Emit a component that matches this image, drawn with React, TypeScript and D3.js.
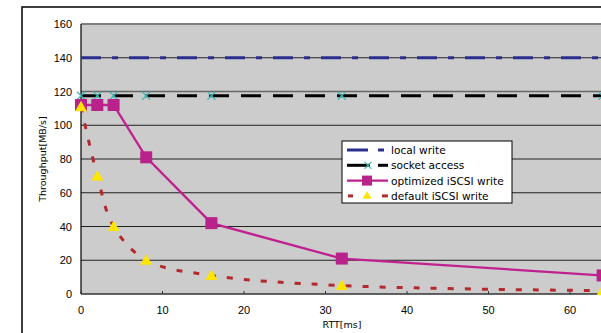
import React from 'react';
import * as d3 from 'd3';

// RTT values and throughput series
const rtt = [0, 2, 4, 8, 16, 32, 64];
const localWrite = [140, 140, 140, 140, 140, 140, 140];
const socketAccess = [117.5, 117.5, 117.5, 117.5, 117.5, 117.5, 117.5];
const optimizedWrite = [112, 112, 112, 81, 42, 21, 11];
const defaultWrite = [111, 70, 40, 20, 11, 5, 2];
const yTicks = [0, 20, 40, 60, 80, 100, 120, 140, 160];
const xTicks = [0, 10, 20, 30, 40, 50, 60];
const legendNames = ['local write', 'socket access', 'optimized iSCSI write', 'default iSCSI write'];

const W = 601;
const H = 333;
const FONT = '"Liberation Sans", Arial, sans-serif';
const WIDE = '"DejaVu Sans", sans-serif';

function App() {
  const x = d3.scaleLinear().domain([0, 70]).range([81, 651.5]);
  const y = d3.scaleLinear().domain([0, 160]).range([294, 24]);

  const straight = d3.line<number>().x((d, i) => x(rtt[i])).y(d => y(d));
  const smooth = d3.line<number>().x((d, i) => x(rtt[i])).y(d => y(d)).curve(d3.curveCatmullRom.alpha(0.5));

  const squares = optimizedWrite.map((v, i) => ({ cx: x(rtt[i]), cy: y(v) }));
  const tris = defaultWrite.map((v, i) => ({ cx: x(rtt[i]), cy: y(v) }));
  const crosses = socketAccess.map((v, i) => ({ cx: x(rtt[i]), cy: y(v) }));

  const tri = (cx: number, cy: number, s = 6) =>
    `M${cx},${cy - s} L${cx + s},${cy + s * 0.75} L${cx - s},${cy + s * 0.75} Z`;
  const cross = (cx: number, cy: number, s = 4) =>
    `M${cx - s},${cy - s} L${cx + s},${cy + s} M${cx - s},${cy + s} L${cx + s},${cy - s}`;

  const lx = 342, ly = 141, lw = 170, lh = 62;
  const rowY = (i: number) => ly + 9 + i * 15.3;

  return (
    <svg width={W} height={H} style={{ position: 'absolute', left: 0, top: 0, background: '#fff' }}>
      {/* outer chart frame */}
      <path d={`M22,${H} L22,7 L${W},7`} fill="none" stroke="#000" strokeWidth={1.5} />

      {/* plot area */}
      <rect x={x(0)} y={y(160)} width={x(70) - x(0)} height={y(0) - y(160)} fill="#cccccc" />
      {yTicks.filter(t => t > 0 && t < 160).map(t => (
        <line key={t} x1={x(0)} x2={W} y1={y(t)} y2={y(t)} stroke="#222" strokeWidth={1} />
      ))}
      <line x1={x(0)} x2={W} y1={y(160)} y2={y(160)} stroke="#808080" strokeWidth={2} />
      <line x1={x(0)} x2={W} y1={y(120)} y2={y(120)} stroke="#666" strokeWidth={1.3} />

      {/* axes */}
      <line x1={x(0)} x2={x(0)} y1={y(160)} y2={y(0)} stroke="#000" strokeWidth={1.2} />
      <line x1={x(0)} x2={W} y1={y(0)} y2={y(0)} stroke="#333" strokeWidth={1.5} />
      {xTicks.map(t => (
        <g key={t}>
          <line x1={x(t)} x2={x(t)} y1={y(0)} y2={y(0) - 3} stroke="#333" strokeWidth={1} />
          <text x={x(t)} y={y(0) + 20} textAnchor="middle" fontFamily={FONT} fontSize={11}>{t}</text>
        </g>
      ))}
      {yTicks.map(t => (
        <text key={t} x={72} y={y(t) + 4} textAnchor="end" fontFamily={FONT} fontSize={11}>{t}</text>
      ))}
      <text x={342} y={328} textAnchor="middle" fontFamily={WIDE} fontSize={9.5}>RTT[ms]</text>
      <text transform={`translate(46,159) rotate(-90)`} textAnchor="middle" fontFamily={WIDE} fontSize={9.5}>Throughput[MB/s]</text>

      {/* series */}
      <path d={straight(localWrite) || ''} fill="none" stroke="#2b2f8f" strokeWidth={3} strokeDasharray="20 11 6 11" />
      <path d={straight(socketAccess) || ''} fill="none" stroke="#000" strokeWidth={3} strokeDasharray="20 12" />
      {crosses.map((c, i) => (
        <path key={i} d={cross(c.cx, c.cy)} stroke="#3fb8b8" strokeWidth={1.2} fill="none" />
      ))}
      <path d={smooth(defaultWrite) || ''} fill="none" stroke="#b22a2e" strokeWidth={3} strokeDasharray="6 11" />
      <path d={straight(optimizedWrite) || ''} fill="none" stroke="#c0218f" strokeWidth={2.3} />
      {squares.map((c, i) => (
        <rect key={i} x={c.cx - 6} y={c.cy - 6} width={12} height={12} fill="#b8228a" />
      ))}
      {tris.map((c, i) => (
        <path key={i} d={tri(c.cx, c.cy)} fill="#ffe500" />
      ))}

      {/* legend */}
      <rect x={lx} y={ly} width={lw} height={lh} fill="#fff" stroke="#000" strokeWidth={1} />
      <line x1={347} x2={368} y1={rowY(0)} y2={rowY(0)} stroke="#2b2f8f" strokeWidth={3} />
      <line x1={378} x2={384} y1={rowY(0)} y2={rowY(0)} stroke="#2b2f8f" strokeWidth={3} />
      <line x1={347} x2={370} y1={rowY(1)} y2={rowY(1)} stroke="#000" strokeWidth={3} />
      <line x1={378} x2={388} y1={rowY(1)} y2={rowY(1)} stroke="#000" strokeWidth={3} />
      <path d={cross(368, rowY(1), 3.5)} stroke="#3fb8b8" strokeWidth={1.2} fill="none" />
      <line x1={347} x2={388} y1={rowY(2)} y2={rowY(2)} stroke="#c0218f" strokeWidth={2.3} />
      <rect x={362} y={rowY(2) - 5} width={10} height={10} fill="#b8228a" />
      <line x1={348} x2={353} y1={rowY(3)} y2={rowY(3)} stroke="#b22a2e" strokeWidth={3} />
      <line x1={382} x2={388} y1={rowY(3)} y2={rowY(3)} stroke="#b22a2e" strokeWidth={3} />
      <path d={tri(367, rowY(3) - 0.5, 4.5)} fill="#ffe500" />
      {legendNames.map((n, i) => (
        <text key={n} x={391} y={rowY(i) + 4} fontFamily={WIDE} fontSize={10.6}>{n}</text>
      ))}
    </svg>
  );
}

export default App;
